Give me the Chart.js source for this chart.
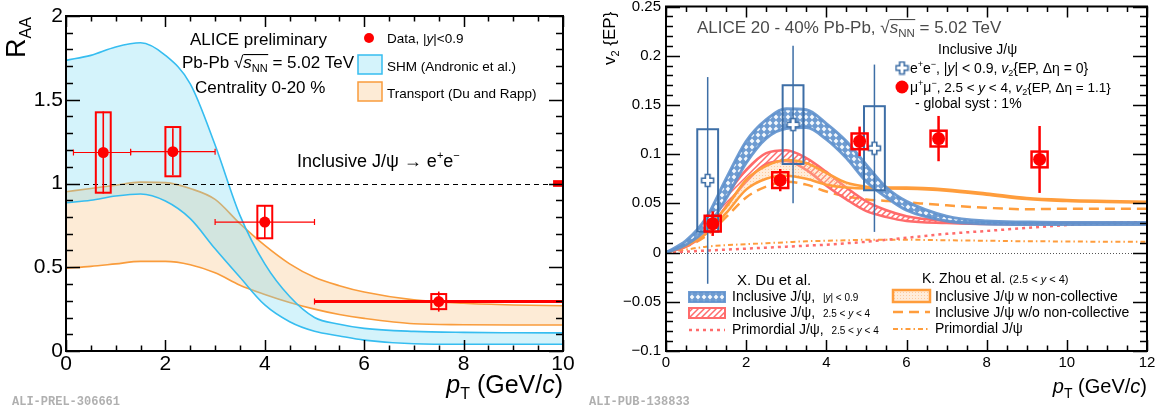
<!DOCTYPE html>
<html>
<head>
<meta charset="utf-8">
<title>J/psi RAA and v2</title>
<script src="https://cdn.jsdelivr.net/npm/chart.js@4.4.1/dist/chart.umd.min.js"></script>
<style>
  html, body { margin: 0; padding: 0; background: #fff; }
  body { width: 1163px; height: 412px; position: relative; overflow: hidden; }
  canvas { position: absolute; top: 0; }
  #raa { left: 0; }
  #v2 { left: 581px; }
  .tag { position: absolute; top: 395px; line-height: 12px; font: bold 12px "Liberation Mono", "DejaVu Sans Mono", monospace; color: #b0b0b0; }
</style>
</head>
<body>
<canvas id="raa" width="581" height="412"></canvas>
<canvas id="v2" width="582" height="412"></canvas>
<div class="tag" style="left:12px">ALI-PREL-306661</div>
<div class="tag" style="left:589px">ALI-PUB-138833</div>
<script>
// ---------- left panel: R_AA, centrality 0-20 %
const raaPt   = [0.75, 2.15, 4.0, 7.5];
const raaVal  = [1.185, 1.19, 0.77, 0.295];
const raaXlo  = [0.15, 1.3, 3.0, 5.0];
const raaXhi  = [1.3, 3.0, 5.0, 10.0];
const raaStat = [0.245, 0.14, 0.10, 0.06];
const raaSyst = [0.24, 0.147, 0.097, 0.045];
const raaGlobal = 0.02;

const raaGrid   = [0, 0.5, 1, 1.5, 2, 2.5, 3, 3.5, 4, 4.5, 5, 5.5, 6, 7, 8, 9, 10];
const shmHigh   = [1.735, 1.765, 1.815, 1.84, 1.765, 1.595, 1.23, 0.81, 0.52, 0.325, 0.2, 0.16, 0.135, 0.117, 0.111, 0.109, 0.108];
const shmLow    = [0.885, 0.9, 0.925, 0.937, 0.895, 0.79, 0.61, 0.44, 0.275, 0.175, 0.118, 0.09, 0.065, 0.043, 0.04, 0.04, 0.04];
const transHigh = [0.951, 0.97, 0.99, 1.008, 1.005, 0.97, 0.905, 0.76, 0.63, 0.52, 0.44, 0.39, 0.352, 0.305, 0.285, 0.275, 0.27];
const transLow  = [0.494, 0.505, 0.52, 0.535, 0.535, 0.515, 0.467, 0.393, 0.338, 0.29, 0.25, 0.218, 0.195, 0.163, 0.157, 0.155, 0.155];

const raaXTicks = [0, 2, 4, 6, 8, 10];
const raaYTicks = [0, 0.5, 1, 1.5, 2];

// ---------- right panel: v2, 20-40 %
const eePt   = [1.04, 3.17, 5.2];
const eeVal  = [0.0733, 0.13, 0.106];
const eeStat = [0.105, 0.08, 0.085];
const eeSyst = [0.052, 0.04, 0.0427];

const mmPt   = [1.165, 2.85, 4.83, 6.8, 9.32];
const mmVal  = [0.0294, 0.0736, 0.113, 0.1158, 0.0946];
const mmStat = [0.0125, 0.0113, 0.015, 0.023, 0.034];
const mmSyst = [0.008, 0.008, 0.008, 0.008, 0.008];

const v2Grid     = [0, 0.5, 1, 1.5, 2, 2.5, 3, 3.5, 4, 4.5, 5, 5.5, 6, 7, 8, 9, 10, 11, 12];
const duMidHigh  = [0, 0.012, 0.035, 0.075, 0.113, 0.135, 0.146, 0.145, 0.131, 0.113, 0.089, 0.066, 0.052, 0.037, 0.032, 0.031, 0.0305, 0.0305, 0.0305];
const duMidLow   = [0, 0.008, 0.024, 0.055, 0.091, 0.116, 0.126, 0.127, 0.115, 0.096, 0.072, 0.056, 0.043, 0.032, 0.029, 0.0285, 0.0285, 0.0285, 0.0285];
const duFwdHigh  = [0, 0.009, 0.028, 0.058, 0.084, 0.101, 0.104, 0.096, 0.082, 0.066, 0.052, 0.043, 0.037, 0.032, 0.03, 0.03, 0.03, 0.03, 0.03];
const duFwdLow   = [0, 0.006, 0.02, 0.047, 0.072, 0.09, 0.093, 0.084, 0.068, 0.054, 0.042, 0.036, 0.032, 0.03, 0.029, 0.029, 0.029, 0.029, 0.029];
const duPrim     = [0, 0.001, 0.002, 0.003, 0.004, 0.005, 0.006, 0.007, 0.008, 0.0095, 0.011, 0.013, 0.015, 0.019, 0.022, 0.025, 0.028, 0.03, 0.031];
const zhouHigh   = [0, 0.009, 0.024, 0.046, 0.074, 0.088, 0.094, 0.091, 0.081, 0.071, 0.067, 0.066, 0.066, 0.064, 0.06, 0.0555, 0.0535, 0.0525, 0.0517];
const zhouLow    = [0, 0.007, 0.019, 0.04, 0.064, 0.075, 0.078, 0.075, 0.069, 0.066, 0.065, 0.065, 0.0648, 0.0628, 0.0588, 0.0543, 0.0523, 0.0513, 0.0505];
const zhouNoColl = [0, 0.006, 0.017, 0.036, 0.056, 0.067, 0.072, 0.069, 0.062, 0.057, 0.054, 0.0525, 0.051, 0.048, 0.0455, 0.044, 0.0445, 0.0445, 0.0445];
const zhouPrim   = [0, 0.003, 0.006, 0.0075, 0.0085, 0.0095, 0.0105, 0.0115, 0.012, 0.0125, 0.013, 0.013, 0.013, 0.0125, 0.012, 0.0115, 0.0113, 0.011, 0.011];

const v2XTicks = [0, 2, 4, 6, 8, 10, 12];
const v2YTicks = [-0.1, -0.05, 0, 0.05, 0.1, 0.15, 0.2, 0.25];

// ---------- helpers
const FAM = '"Liberation Sans", Arial, Helvetica, sans-serif';
const font = (sz, it) => (it ? 'italic ' : '') + sz + 'px ' + FAM;
const pts = (xs, ys) => xs.map((x, i) => ({ x, y: ys[i] }));

function curve(xs, ys, color, width, extra) {
    return Object.assign({ data: pts(xs, ys), borderColor: color, borderWidth: width, pointRadius: 0,
        cubicInterpolationMode: 'monotone', fill: false }, extra || {});
}

// segs: [text, size, italic, dy, overlineDy]
function rich(ctx, x, y, segs, opt) {
    opt = opt || {};
    ctx.save();
    ctx.fillStyle = opt.color || '#000';
    ctx.textBaseline = 'alphabetic';
    ctx.textAlign = 'left';
    let w = 0;
    segs.forEach(s => { ctx.font = font(s[1], s[2]); w += ctx.measureText(s[0]).width; });
    let cx = opt.align === 'right' ? x - w : x;
    segs.forEach(s => {
        ctx.font = font(s[1], s[2]);
        const sw = ctx.measureText(s[0]).width;
        ctx.fillText(s[0], cx, y + (s[3] || 0));
        if (s[4]) ctx.fillRect(cx, y + s[4], sw + 0.5, 1.1);
        cx += sw;
    });
    ctx.restore();
    return cx;
}

function pattern(w, h, draw) {
    const c = document.createElement('canvas');
    c.width = w; c.height = h;
    draw(c.getContext('2d'), w, h);
    return c.getContext('2d').createPattern(c, 'repeat');
}

const blueHatch = pattern(6, 6, (g, w, h) => {
    g.fillStyle = '#6d9bd1'; g.fillRect(0, 0, w, h);
    g.fillStyle = '#f4f8fd';
    g.beginPath(); g.moveTo(3, 0.6); g.lineTo(5.4, 3); g.lineTo(3, 5.4); g.lineTo(0.6, 3); g.closePath(); g.fill();
});
const redHatch = pattern(6, 6, (g, w, h) => {
    g.strokeStyle = '#ff6b6b'; g.lineWidth = 1.5;
    g.beginPath();
    g.moveTo(0, h); g.lineTo(w, 0);
    g.moveTo(-1, 1); g.lineTo(1, -1);
    g.moveTo(w - 1, h + 1); g.lineTo(w + 1, h - 1);
    g.stroke();
});
const orangeDots = pattern(3, 3, (g) => {
    g.fillStyle = 'rgba(255,200,150,0.35)'; g.fillRect(0, 0, 3, 3);
    g.fillStyle = 'rgba(255,160,80,0.45)'; g.fillRect(1, 1, 1, 1);
});

function crossImage(color) {
    const c = document.createElement('canvas');
    c.width = c.height = 15;
    const g = c.getContext('2d'), m = 7.5, a = 2.3, r = 6;
    g.beginPath();
    g.moveTo(m - a, m - r); g.lineTo(m + a, m - r); g.lineTo(m + a, m - a); g.lineTo(m + r, m - a);
    g.lineTo(m + r, m + a); g.lineTo(m + a, m + a); g.lineTo(m + a, m + r); g.lineTo(m - a, m + r);
    g.lineTo(m - a, m + a); g.lineTo(m - r, m + a); g.lineTo(m - r, m - a); g.lineTo(m - a, m - a);
    g.closePath();
    g.fillStyle = '#fff'; g.fill();
    g.strokeStyle = color; g.lineWidth = 1.6; g.stroke();
    return c;
}

// ROOT-like frame with inward ticks on all four sides
function framePlugin(cfg) {
    return {
        id: 'rootFrame',
        afterDatasetsDraw(chart) {
            const { ctx, chartArea: a, scales: { x, y } } = chart;
            ctx.save();
            ctx.strokeStyle = '#000';
            ctx.lineWidth = 1.5;
            ctx.beginPath();
            const nx = Math.round((x.max - x.min) / cfg.xMinor);
            for (let k = 0; k <= nx; k++) {
                const v = x.min + k * cfg.xMinor;
                const px = Math.round(x.getPixelForValue(v)) + 0.5;
                const major = Math.abs(v / cfg.xMajor - Math.round(v / cfg.xMajor)) < 1e-6;
                const L = major ? cfg.xLen : cfg.xLen / 2;
                ctx.moveTo(px, a.bottom); ctx.lineTo(px, a.bottom - L);
                ctx.moveTo(px, a.top); ctx.lineTo(px, a.top + L);
            }
            const ny = Math.round((y.max - y.min) / cfg.yMinor);
            for (let k = 0; k <= ny; k++) {
                const v = y.min + k * cfg.yMinor;
                const py = Math.round(y.getPixelForValue(v)) + 0.5;
                const major = Math.abs(v / cfg.yMajor - Math.round(v / cfg.yMajor)) < 1e-6;
                const L = major ? cfg.yLen : cfg.yLen / 2;
                ctx.moveTo(a.left, py); ctx.lineTo(a.left + L, py);
                ctx.moveTo(a.right, py); ctx.lineTo(a.right - L, py);
            }
            ctx.stroke();
            ctx.lineWidth = 2;
            ctx.strokeRect(a.left, a.top, a.right - a.left, a.bottom - a.top);
            ctx.restore();
        }
    };
}

function axisScales(o) {
    return {
        x: {
            type: 'linear', min: o.xmin, max: o.xmax,
            afterBuildTicks: s => { s.ticks = o.xticks.map(v => ({ value: v })); },
            grid: { display: false, drawTicks: false }, border: { display: false },
            ticks: { font: { family: FAM, size: o.fs }, color: '#000', padding: o.xpad, maxRotation: 0, autoSkip: false,
                     callback: v => String(v) },
            afterFit: s => { s.height = 61; s.paddingLeft = 0; s.paddingRight = 0; }
        },
        y: {
            type: 'linear', min: o.ymin, max: o.ymax,
            afterBuildTicks: s => { s.ticks = o.yticks.map(v => ({ value: v })); },
            grid: { display: false, drawTicks: false }, border: { display: false },
            ticks: { font: { family: FAM, size: o.fs }, color: '#000', padding: o.ypad, autoSkip: false,
                     callback: v => String(v).replace('-', '\u2212') },
            afterFit: s => { s.width = o.yw; s.paddingTop = 0; s.paddingBottom = 0; }
        }
    };
}

// ---------- left chart
const xBarWidth = [1.2, 1.2, 1.2, 3];
const SHM_FILL = 'rgba(121,218,243,0.32)', SHM_LINE = '#36bdf0';
const TR_FILL = '#fdebd6', TR_LINE = '#f99c3c';

const raaExtras = {
    id: 'raaExtras',
    beforeDatasetDraw(chart, args) {
        if (args.index !== 0) return;
        const { ctx, chartArea: a, scales: { x, y } } = chart;
        ctx.save();
        const y1 = Math.round(y.getPixelForValue(1)) + 0.5;
        ctx.strokeStyle = '#000'; ctx.lineWidth = 1; ctx.setLineDash([5, 4]);
        ctx.beginPath(); ctx.moveTo(a.left, y1); ctx.lineTo(a.right, y1); ctx.stroke();
        ctx.setLineDash([]);
        ctx.fillStyle = '#ff0000';
        const g0 = x.getPixelForValue(9.8), gt = y.getPixelForValue(1 + raaGlobal);
        ctx.fillRect(g0, gt, x.getPixelForValue(10) - g0, y.getPixelForValue(1 - raaGlobal) - gt);
        ctx.strokeStyle = '#ff0000';
        raaPt.forEach((pt, i) => {
            const py = y.getPixelForValue(raaVal[i]);
            const xl = x.getPixelForValue(raaXlo[i]), xh = x.getPixelForValue(raaXhi[i]);
            ctx.lineWidth = xBarWidth[i];
            ctx.beginPath(); ctx.moveTo(xl, py); ctx.lineTo(xh, py); ctx.stroke();
            ctx.lineWidth = 1.2;
            ctx.beginPath();
            ctx.moveTo(xl, py - 3); ctx.lineTo(xl, py + 3);
            ctx.moveTo(xh, py - 3); ctx.lineTo(xh, py + 3);
            ctx.stroke();
            const px = x.getPixelForValue(pt);
            ctx.lineWidth = 1.6;
            ctx.beginPath();
            ctx.moveTo(px, y.getPixelForValue(raaVal[i] - raaStat[i]));
            ctx.lineTo(px, y.getPixelForValue(raaVal[i] + raaStat[i]));
            ctx.stroke();
            ctx.lineWidth = 2;
            const bx = x.getPixelForValue(pt - 0.15), by = y.getPixelForValue(raaVal[i] + raaSyst[i]);
            ctx.strokeRect(bx, by, x.getPixelForValue(pt + 0.15) - bx, y.getPixelForValue(raaVal[i] - raaSyst[i]) - by);
        });
        ctx.restore();
    },
    afterDraw(chart) {
        const ctx = chart.ctx;
        rich(ctx, 190, 45, [['ALICE preliminary', 17]]);
        rich(ctx, 182, 68, [['Pb-Pb ', 17], ['\u221A', 17], ['s', 17, true, 0, -14], ['NN', 11, false, 4, -14], [' = 5.02 TeV', 17]]);
        rich(ctx, 195, 93, [['Centrality 0-20 %', 17]]);
        ctx.save();
        ctx.fillStyle = '#ff0000';
        ctx.beginPath(); ctx.arc(369, 38, 5, 0, 2 * Math.PI); ctx.fill();
        ctx.fillStyle = '#fff'; ctx.fillRect(358, 55, 24, 19);
        ctx.fillStyle = SHM_FILL; ctx.fillRect(358, 55, 24, 19);
        ctx.strokeStyle = SHM_LINE; ctx.lineWidth = 1.5; ctx.strokeRect(358, 55, 24, 19);
        ctx.fillStyle = TR_FILL; ctx.fillRect(358, 82, 24, 19);
        ctx.strokeStyle = TR_LINE; ctx.strokeRect(358, 82, 24, 19);
        ctx.restore();
        rich(ctx, 387, 43, [['Data, |', 13.5], ['y', 13.5, true], ['|<0.9', 13.5]]);
        rich(ctx, 387, 71, [['SHM (Andronic et al.)', 13.5]]);
        rich(ctx, 387, 98, [['Transport (Du and Rapp)', 13.5]]);
        rich(ctx, 297, 167, [['Inclusive J/\u03C8 \u2192 e', 18], ['+', 11, false, -8], ['e', 18], ['\u2212', 11, false, -8]]);
        // axis titles
        ctx.save();
        ctx.translate(25, 58); ctx.rotate(-Math.PI / 2);
        rich(ctx, 0, 0, [['R', 27], ['AA', 16, false, 6]]);
        ctx.restore();
        rich(ctx, 563, 393, [['p', 25, true], ['T', 16, false, 6], [' (GeV/', 25], ['c', 25, true], [')', 25]], { align: 'right' });
    }
};

new Chart(document.getElementById('raa'), {
    type: 'line',
    data: {
        datasets: [
            { data: pts(raaPt, raaVal), showLine: false, pointRadius: 5.5, pointBackgroundColor: '#ff0000', pointBorderWidth: 0 },
            curve(raaGrid, shmHigh, SHM_LINE, 1.6),
            curve(raaGrid, shmLow, SHM_LINE, 1.6, { fill: '-1', backgroundColor: SHM_FILL }),
            curve(raaGrid, transHigh, TR_LINE, 1.6),
            curve(raaGrid, transLow, TR_LINE, 1.6, { fill: '-1', backgroundColor: TR_FILL })
        ]
    },
    options: {
        responsive: false, animation: false, events: [],
        layout: { padding: { left: 0, right: 18, top: 16, bottom: 0 } },
        plugins: { legend: { display: false }, tooltip: { enabled: false } },
        scales: axisScales({ xmin: 0, xmax: 10, ymin: 0, ymax: 2, xticks: raaXTicks, yticks: raaYTicks, fs: 21, xpad: 1, ypad: 3, yw: 66 })
    },
    plugins: [raaExtras, framePlugin({ xMajor: 2, xMinor: 0.5, xLen: 11, yMajor: 0.5, yMinor: 0.1, yLen: 14 })]
});

// ---------- right chart
const EE_BLUE = '#3d6ea6', MM_RED = '#ff0000';
const DU_BLUE = 'rgba(95,145,205,0.9)', DU_RED = '#ff6b6b', ZH_ORANGE = '#ff9d3c';
const eeCross = crossImage(EE_BLUE);

const v2Extras = {
    id: 'v2Extras',
    beforeDatasetsDraw(chart) {
        const { ctx, chartArea: a, scales: { y } } = chart;
        const y0 = Math.round(y.getPixelForValue(0)) + 0.5;
        ctx.save();
        ctx.strokeStyle = '#555'; ctx.lineWidth = 1; ctx.setLineDash([1, 2]);
        ctx.beginPath(); ctx.moveTo(a.left, y0); ctx.lineTo(a.right, y0); ctx.stroke();
        ctx.restore();
    },
    beforeDatasetDraw(chart, args) {
        const { ctx, scales: { x, y } } = chart;
        ctx.save();
        if (args.index === 1) {
            ctx.strokeStyle = EE_BLUE;
            eePt.forEach((pt, i) => {
                const px = x.getPixelForValue(pt);
                ctx.lineWidth = 1.5;
                ctx.beginPath();
                ctx.moveTo(px, y.getPixelForValue(eeVal[i] - eeStat[i]));
                ctx.lineTo(px, y.getPixelForValue(eeVal[i] + eeStat[i]));
                ctx.stroke();
                ctx.lineWidth = 2;
                const bx = x.getPixelForValue(pt - 0.26), by = y.getPixelForValue(eeVal[i] + eeSyst[i]);
                ctx.strokeRect(bx, by, x.getPixelForValue(pt + 0.26) - bx, y.getPixelForValue(eeVal[i] - eeSyst[i]) - by);
            });
        } else if (args.index === 0) {
            ctx.strokeStyle = MM_RED;
            mmPt.forEach((pt, i) => {
                const px = x.getPixelForValue(pt);
                ctx.lineWidth = 2.5;
                ctx.beginPath();
                ctx.moveTo(px, y.getPixelForValue(mmVal[i] - mmStat[i]));
                ctx.lineTo(px, y.getPixelForValue(mmVal[i] + mmStat[i]));
                ctx.stroke();
                const bx = x.getPixelForValue(pt - 0.2), by = y.getPixelForValue(mmVal[i] + mmSyst[i]);
                ctx.strokeRect(bx, by, x.getPixelForValue(pt + 0.2) - bx, y.getPixelForValue(mmVal[i] - mmSyst[i]) - by);
            });
        }
        ctx.restore();
    },
    afterDraw(chart) {
        const ctx = chart.ctx, grey = '#4a4a4a';
        rich(ctx, 116, 33, [['ALICE 20 - 40% Pb-Pb, ', 17], ['\u221A', 17], ['s', 17, true, 0, -14], ['NN', 11.5, false, 4, -14], [' = 5.02 TeV', 17]], { color: grey });
        rich(ctx, 357, 54, [['Inclusive J/\u03C8', 14]]);
        ctx.drawImage(eeCross, 321 - 7.5, 68 - 7.5);
        rich(ctx, 329, 73, [['e', 14], ['+', 9, false, -6], ['e', 14], ['\u2212', 9, false, -6], [', |', 14], ['y', 14, true],
            ['| < 0.9, ', 14], ['v', 14, true], ['2', 9, false, 3], ['{EP, \u0394\u03B7 = 0}', 14]]);
        ctx.save(); ctx.fillStyle = MM_RED;
        ctx.beginPath(); ctx.arc(321, 87, 6.5, 0, 2 * Math.PI); ctx.fill(); ctx.restore();
        rich(ctx, 329, 92, [['\u03BC', 14], ['+', 9, false, -6], ['\u03BC', 14], ['\u2212', 9, false, -6], [', 2.5 < ', 13.5], ['y', 13.5, true],
            [' < 4, ', 13.5], ['v', 13.5, true], ['2', 9, false, 3], ['{EP, \u0394\u03B7 = 1.1}', 13.5]]);
        rich(ctx, 334, 108, [['- global syst : 1%', 14]]);

        // X. Du legend
        rich(ctx, 156, 285, [['X. Du et al.', 15]]);
        ctx.save();
        ctx.fillStyle = blueHatch; ctx.fillRect(108, 292, 36, 10);
        ctx.strokeStyle = DU_BLUE; ctx.lineWidth = 2; ctx.strokeRect(108, 292, 36, 10);
        ctx.fillStyle = redHatch; ctx.fillRect(108, 308, 36, 10);
        ctx.strokeStyle = DU_RED; ctx.strokeRect(108, 308, 36, 10);
        ctx.lineWidth = 2.5; ctx.setLineDash([3, 4]);
        ctx.beginPath(); ctx.moveTo(108, 330); ctx.lineTo(144, 330); ctx.stroke();
        ctx.restore();
        rich(ctx, 151, 301, [['Inclusive J/\u03C8,  ', 14], ['|', 10], ['y', 10, true], ['| < 0.9', 10]]);
        rich(ctx, 151, 317, [['Inclusive J/\u03C8,  ', 14], ['2.5 < ', 10], ['y', 10, true], [' < 4', 10]]);
        rich(ctx, 151, 334, [['Primordial J/\u03C8,  ', 14], ['2.5 < ', 10], ['y', 10, true], [' < 4', 10]]);

        // K. Zhou legend
        rich(ctx, 341, 283, [['K. Zhou et al. ', 14], ['(2.5 < ', 11], ['y', 11, true], [' < 4)', 11]]);
        ctx.save();
        ctx.fillStyle = '#fff'; ctx.fillRect(312, 290, 37, 12);
        ctx.fillStyle = orangeDots; ctx.fillRect(312, 290, 37, 12);
        ctx.strokeStyle = ZH_ORANGE; ctx.lineWidth = 2.5; ctx.strokeRect(312, 290, 37, 12);
        ctx.setLineDash([10, 6]);
        ctx.beginPath(); ctx.moveTo(312, 312); ctx.lineTo(349, 312); ctx.stroke();
        ctx.lineWidth = 2; ctx.setLineDash([5, 3, 1.5, 3]);
        ctx.beginPath(); ctx.moveTo(312, 329); ctx.lineTo(349, 329); ctx.stroke();
        ctx.restore();
        rich(ctx, 354, 301, [['Inclusive J/\u03C8 w non-collective', 14]]);
        rich(ctx, 354, 317, [['Inclusive J/\u03C8 w/o non-collective', 14]]);
        rich(ctx, 354, 333, [['Primordial J/\u03C8', 14]]);

        // axis titles
        ctx.save();
        ctx.translate(34, 65); ctx.rotate(-Math.PI / 2);
        rich(ctx, 0, 0, [['v', 17], ['2', 11, false, 4], [' {EP}', 17]]);
        ctx.restore();
        rich(ctx, 566, 393, [['p', 20, true], ['T', 14, false, 5], [' (GeV/', 20], ['c', 20, true], [')', 20]], { align: 'right' });
    }
};

new Chart(document.getElementById('v2'), {
    type: 'line',
    data: {
        datasets: [
            { data: pts(mmPt, mmVal), showLine: false, pointRadius: 6.5, pointBackgroundColor: MM_RED, pointBorderWidth: 0 },
            { data: pts(eePt, eeVal), showLine: false, pointStyle: eeCross },
            curve(v2Grid, duMidHigh, DU_BLUE, 3),
            curve(v2Grid, duMidLow, DU_BLUE, 3, { fill: '-1', backgroundColor: blueHatch }),
            curve(v2Grid, zhouHigh, ZH_ORANGE, 2.5),
            curve(v2Grid, zhouLow, ZH_ORANGE, 2.5, { fill: '-1', backgroundColor: orangeDots }),
            curve(v2Grid, duFwdHigh, DU_RED, 2.5),
            curve(v2Grid, duFwdLow, DU_RED, 2.5, { fill: '-1', backgroundColor: redHatch }),
            curve(v2Grid, zhouNoColl, ZH_ORANGE, 2.5, { borderDash: [10, 6] }),
            curve(v2Grid, duPrim, DU_RED, 2.5, { borderDash: [3, 4] }),
            curve(v2Grid, zhouPrim, ZH_ORANGE, 2, { borderDash: [5, 3, 1.5, 3] })
        ]
    },
    options: {
        responsive: false, animation: false, events: [],
        layout: { padding: { left: 0, right: 16, top: 5, bottom: 0 } },
        plugins: { legend: { display: false }, tooltip: { enabled: false } },
        scales: axisScales({ xmin: 0, xmax: 12, ymin: -0.1, ymax: 0.25, xticks: v2XTicks, yticks: v2YTicks, fs: 15, xpad: 3, ypad: 5, yw: 85 })
    },
    plugins: [v2Extras, framePlugin({ xMajor: 2, xMinor: 0.5, xLen: 11, yMajor: 0.05, yMinor: 0.01, yLen: 14 })]
});
</script>
</body>
</html>
